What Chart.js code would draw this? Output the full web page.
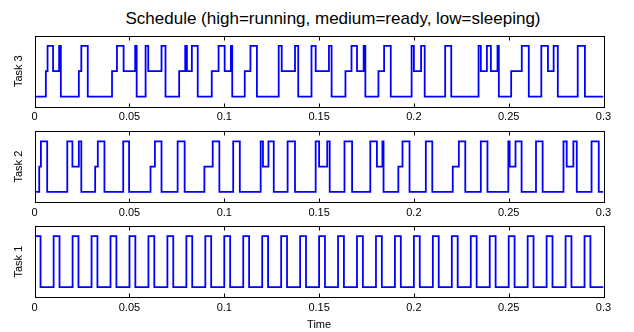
<!DOCTYPE html>
<html>
<head>
<meta charset="utf-8">
<script src="https://cdn.jsdelivr.net/npm/chart.js@4.4.1/dist/chart.umd.min.js"></script>
<style>
  html, body { margin: 0; padding: 0; background: #fff; }
  #wrap { position: relative; width: 634px; height: 332px; overflow: hidden; }
  #wrap canvas { position: absolute; left: 0; }
  #title {
    position: absolute; left: 46px; width: 574px; top: 9px;
    text-align: center; white-space: nowrap;
    font-family: "Liberation Sans", Arial, Helvetica, sans-serif;
    font-size: 17px; line-height: 20px; color: #000;
  }
</style>
</head>
<body>
<div id="wrap">
  <div id="title">Schedule (high=running, medium=ready, low=sleeping)</div>
  <canvas id="c3"></canvas>
  <canvas id="c2"></canvas>
  <canvas id="c1"></canvas>
</div>
<script>
// Task states: 0 = sleeping, 1 = ready, 2 = running.
// Each task is a list of switch times and the state entered at that time.
const task3Times = [0, 0.0059, 0.0068, 0.0097, 0.0129, 0.0138, 0.0233, 0.0246, 0.0280, 0.0408,
  0.0434, 0.0469, 0.0530, 0.0538, 0.0585, 0.0599, 0.0669, 0.0690, 0.0762, 0.0794,
  0.0803, 0.0829, 0.0860, 0.0934, 0.0970, 0.1002, 0.1035, 0.1042, 0.1108, 0.1138,
  0.1172, 0.1287, 0.1303, 0.1373, 0.1390, 0.1460, 0.1482, 0.1552, 0.1566, 0.1639,
  0.1671, 0.1700, 0.1735, 0.1744, 0.1813, 0.1843, 0.1878, 0.1988, 0.2000, 0.2038,
  0.2057, 0.2165, 0.2197, 0.2341, 0.2353, 0.2385, 0.2406, 0.2441, 0.2448, 0.2513,
  0.2569, 0.2606, 0.2672, 0.2707, 0.2737, 0.2759, 0.2864, 0.2902, 0.3];
const task3States = [0, 1, 2, 1, 2, 0, 1, 2, 0, 1,
  2, 1, 2, 0, 2, 1, 2, 0, 1, 2,
  1, 2, 0, 1, 2, 1, 2, 0, 1, 2,
  0, 2, 1, 2, 0, 2, 1, 2, 0, 1,
  2, 1, 2, 0, 1, 2, 0, 2, 1, 2,
  0, 2, 0, 2, 1, 2, 1, 2, 0, 1,
  2, 0, 2, 1, 2, 0, 2, 0, 0];

const task2Times = [0, 0.0024, 0.0033, 0.0066, 0.0172, 0.0199, 0.0233, 0.0246, 0.0319, 0.0333,
  0.0368, 0.0467, 0.0498, 0.0611, 0.0634, 0.0669, 0.0754, 0.0791, 0.0895, 0.0939,
  0.0974, 0.1047, 0.1082, 0.1192, 0.1204, 0.1233, 0.1261, 0.1334, 0.1373, 0.1482,
  0.1500, 0.1543, 0.1556, 0.1634, 0.1674, 0.1770, 0.1805, 0.1834, 0.1840, 0.1918,
  0.1940, 0.1977, 0.2063, 0.2097, 0.2205, 0.2237, 0.2271, 0.2353, 0.2388, 0.2498,
  0.2505, 0.2536, 0.2568, 0.2644, 0.2679, 0.2789, 0.2806, 0.2841, 0.2859, 0.2937,
  0.2975, 0.3];
const task2States = [0, 1, 2, 0, 2, 1, 2, 0, 1, 2,
  0, 2, 0, 1, 2, 0, 2, 0, 1, 2,
  0, 2, 0, 2, 1, 2, 0, 2, 0, 2,
  1, 2, 0, 2, 0, 2, 1, 2, 0, 1,
  2, 0, 2, 0, 1, 2, 0, 2, 0, 2,
  1, 2, 0, 2, 0, 2, 1, 2, 0, 2,
  0, 0];

const task1Times = [0, 0.0031, 0.01, 0.0131, 0.02, 0.0231, 0.03, 0.0331, 0.04, 0.0431,
  0.05, 0.0531, 0.06, 0.0631, 0.07, 0.0731, 0.08, 0.0831, 0.09, 0.0931,
  0.10, 0.1031, 0.11, 0.1131, 0.12, 0.1231, 0.13, 0.1331, 0.14, 0.1431,
  0.15, 0.1531, 0.16, 0.1631, 0.17, 0.1731, 0.18, 0.1831, 0.19, 0.1931,
  0.20, 0.2031, 0.21, 0.2131, 0.22, 0.2231, 0.23, 0.2331, 0.24, 0.2431,
  0.25, 0.2531, 0.26, 0.2631, 0.27, 0.2731, 0.28, 0.2831, 0.29, 0.2931,
  0.3];
const task1States = [2, 0, 2, 0, 2, 0, 2, 0, 2, 0,
  2, 0, 2, 0, 2, 0, 2, 0, 2, 0,
  2, 0, 2, 0, 2, 0, 2, 0, 2, 0,
  2, 0, 2, 0, 2, 0, 2, 0, 2, 0,
  2, 0, 2, 0, 2, 0, 2, 0, 2, 0,
  2, 0, 2, 0, 2, 0, 2, 0, 2, 0,
  0];

const xTicks = [0, 0.05, 0.1, 0.15, 0.2, 0.25, 0.3];
const tickLabels = ['0', '0.05', '0.1', '0.15', '0.2', '0.25', '0.3'];

const FONT = '"Liberation Sans", Arial, Helvetica, sans-serif';
const W = 634;
const AREA_LEFT = 34.67;
const AREA_RIGHT = 603.5;

// Box outline with inward tick marks on top and bottom edges
const frameAndTicks = {
  id: 'frameAndTicks',
  afterDatasetsDraw(chart) {
    const { ctx, chartArea: a } = chart;
    const x = chart.scales.x;
    const L = Math.round(a.left) + 0.5, R = Math.round(a.right) + 0.5;
    const T = Math.round(a.top) + 0.5, B = Math.round(a.bottom) + 0.5;
    ctx.save();
    ctx.strokeStyle = '#000';
    ctx.lineWidth = 1;
    ctx.strokeRect(L, T, R - L, B - T);
    ctx.beginPath();
    x.ticks.forEach(t => {
      const px = Math.round(x.getPixelForValue(t.value)) + 0.5;
      ctx.moveTo(px, T); ctx.lineTo(px, T + 4);
      ctx.moveTo(px, B); ctx.lineTo(px, B - 4);
    });
    ctx.stroke();
    ctx.restore();
  }
};

function toPoints(times, states) {
  return times.map((t, i) => ({ x: t, y: states[i] }));
}

function drawPanel(id, times, states, name, box) {
  const canvas = document.getElementById(id);
  canvas.width = W;
  canvas.height = box.height;
  canvas.style.top = box.top + 'px';
  canvas.style.width = W + 'px';
  canvas.style.height = box.height + 'px';
  const padTop = box.areaTop - box.top;
  const xHeight = box.top + box.height - box.areaBottom;

  new Chart(canvas, {
    type: 'line',
    data: {
      datasets: [{
        data: toPoints(times, states),
        stepped: true,
        borderColor: '#0000ff',
        borderWidth: 1.8,
        pointRadius: 0,
        fill: false
      }]
    },
    options: {
      responsive: false,
      animation: false,
      devicePixelRatio: 1,
      layout: { padding: { top: padTop, right: W - AREA_RIGHT, left: 0, bottom: 0 } },
      plugins: { legend: { display: false }, tooltip: { enabled: false }, title: { display: false } },
      scales: {
        x: {
          type: 'linear', position: 'bottom', min: 0, max: 0.3,
          grid: { display: false, drawTicks: false },
          border: { display: false },
          afterBuildTicks: s => { s.ticks = xTicks.map(v => ({ value: v })); },
          afterFit: s => { s.height = xHeight; },
          ticks: {
            autoSkip: false, maxRotation: 0, padding: 4, color: '#000',
            font: { family: FONT, size: 11 },
            callback: (v, i) => tickLabels[i]
          },
          title: {
            display: !!box.xTitle, text: box.xTitle || '', color: '#000',
            font: { family: FONT, size: 11 }, padding: { top: 0, bottom: 0 }
          }
        },
        y: {
          type: 'linear', min: -0.4, max: 2.4,
          grid: { display: false, drawTicks: false },
          border: { display: false },
          ticks: { display: false },
          afterFit: s => { s.width = AREA_LEFT; },
          title: {
            display: true, text: name, color: '#000',
            font: { family: FONT, size: 11 }, padding: { top: 12, bottom: 0 }
          }
        }
      }
    },
    plugins: [frameAndTicks]
  });
}

drawPanel('c3', task3Times, task3States, 'Task 3', { top: 0, height: 128, areaTop: 35.7, areaBottom: 106.7 });
drawPanel('c2', task2Times, task2States, 'Task 2', { top: 112, height: 114, areaTop: 131.3, areaBottom: 202 });
drawPanel('c1', task1Times, task1States, 'Task 1', { top: 208, height: 124, areaTop: 226, areaBottom: 297.3, xTitle: 'Time' });
</script>
</body>
</html>
